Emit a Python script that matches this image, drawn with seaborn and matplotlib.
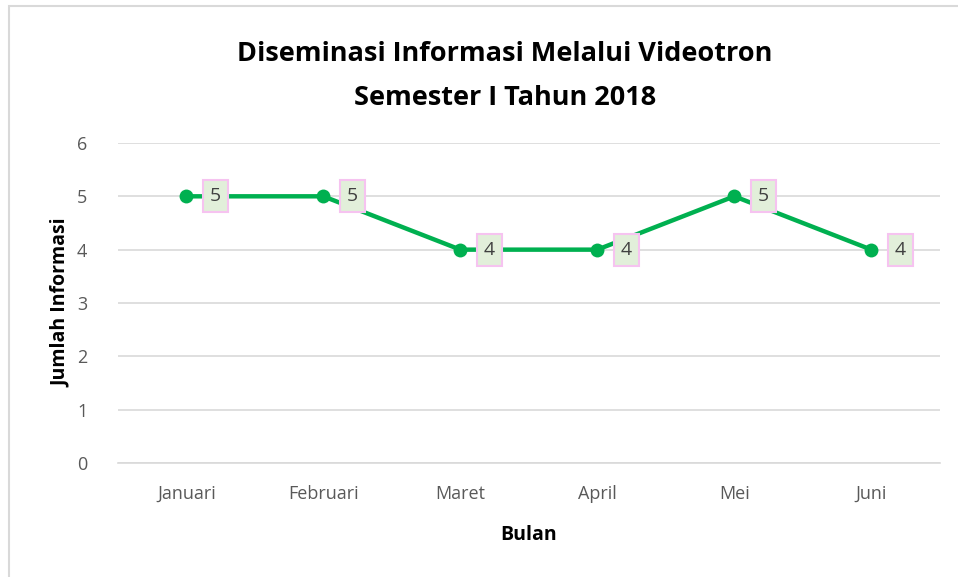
import matplotlib
matplotlib.use("Agg")
import matplotlib.pyplot as plt
import seaborn as sns
import pandas as pd
from matplotlib.patches import Rectangle

# data
bulan = ["Januari", "Februari", "Maret", "April", "Mei", "Juni"]
jumlah = [5, 5, 4, 4, 5, 4]

sns.set_theme(style="white")
plt.rcParams["font.family"] = ["Open Sans", "DejaVu Sans"]

df = pd.DataFrame({"Bulan": bulan, "Jumlah": jumlah})

fig = plt.figure(figsize=(9.58, 5.77), dpi=100)
ax = fig.add_axes([0.123, 0.1976, 0.858, 0.5546])

sns.lineplot(data=df, x="Bulan", y="Jumlah", ax=ax, color="#00B050",
             linewidth=3.2, marker="o", markersize=10, markeredgewidth=0,
             sort=False)

# data labels
for i, v in enumerate(jumlah):
    ax.annotate(str(v), (i, v), xytext=(21, 0), textcoords="offset points",
                ha="center", va="center", fontsize=14, color="#404040",
                bbox=dict(boxstyle="square,pad=0.36", fc="#E2EFDA", ec="#F6C3F0", lw=1.5))

ax.set_ylim(0, 6)
ax.set_xlim(-0.5, 5.5)
ax.set_yticks(range(0, 7))
ax.yaxis.grid(True, color="#D9D9D9", linewidth=1.2)
ax.set_axisbelow(True)
for s in ["top", "right", "left"]:
    ax.spines[s].set_visible(False)
ax.spines["bottom"].set_color("#D9D9D9")
ax.spines["bottom"].set_linewidth(1.2)
ax.tick_params(axis="both", length=0, labelsize=13, labelcolor="#595959")
ax.tick_params(axis="x", pad=16)
ax.tick_params(axis="y", pad=22)

ax.set_xlabel("Bulan", fontsize=14, fontweight="bold", color="black", labelpad=16)
ax.set_ylabel("Jumlah Informasi", fontsize=14, fontweight="bold", color="black", labelpad=4)

fig.text(0.527, 0.907, "Diseminasi Informasi Melalui Videotron", ha="center", va="center",
         fontsize=19.5, fontweight="bold", color="black")
fig.text(0.527, 0.83, "Semester I Tahun 2018", ha="center", va="center",
         fontsize=19.5, fontweight="bold", color="black")

# chart border
fig.patches.append(Rectangle((9 / 958, -0.1), 1.2, 1 - 6 / 577 + 0.1, transform=fig.transFigure,
                             fill=False, ec="#D9D9D9", lw=1.5))

fig.savefig("out.png", dpi=100)
